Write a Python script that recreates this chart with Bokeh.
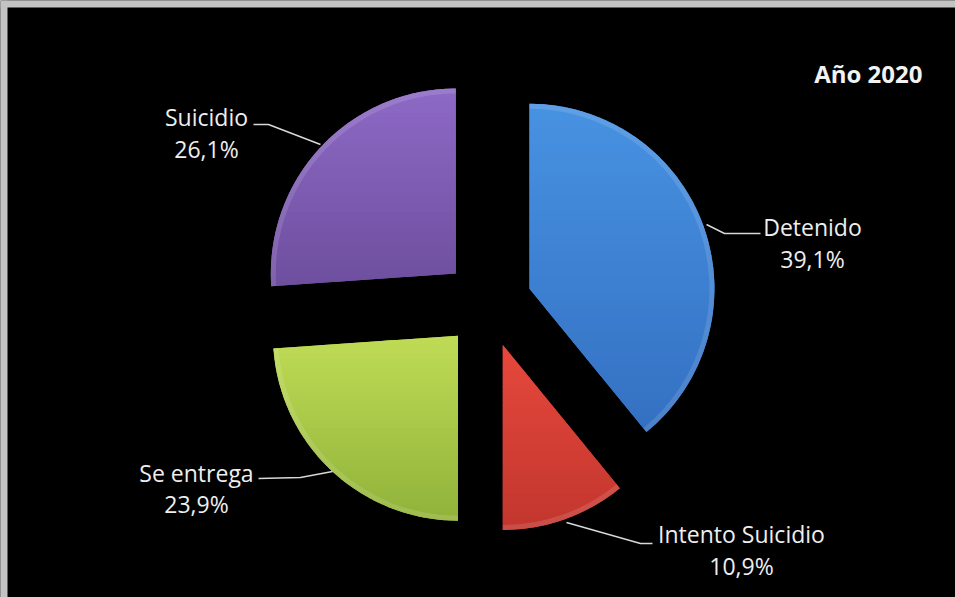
import math
from bokeh.plotting import figure
from bokeh.models import Range1d, Label, ColumnDataSource, BoxAnnotation
from bokeh.core.properties import value
from bokeh.embed import file_html
from bokeh.resources import INLINE

# ---- data ----
categories = ["Detenido", "Intento Suicidio", "Se entrega", "Suicidio"]
percents = [39.1, 10.9, 23.9, 26.1]
top_colors = ["#4892e2", "#e6483c", "#c0dc56", "#8d6ac6"]
bottom_colors = ["#3470c2", "#c2362e", "#90b23a", "#6e4e9e"]
title_text = "Año 2020"

W, H = 955, 597
BL, BT = 7, 7  # grey frame on left / top
p = figure(width=W, height=H, output_backend="svg", toolbar_location=None,
           x_range=Range1d(0, W), y_range=Range1d(0, H), min_border=0,
           background_fill_color="black", border_fill_color="black")
p.axis.visible = False
p.grid.visible = False
p.outline_line_color = None

# grey frame strips (left and top)
p.add_layout(BoxAnnotation(left=0, right=BL, bottom=0, top=H, fill_color="#c3c3c3",
                           fill_alpha=1, line_color=None))
p.add_layout(BoxAnnotation(left=0, right=W, bottom=H - BT, top=H, fill_color="#c3c3c3",
                           fill_alpha=1, line_color=None))


def px(x):  # page x -> data x
    return x


def py(y):  # page y -> data y
    return H - y


CX, CY = px(487.5), py(303)
R = 185
EXPLODE = 44

total = sum(percents)
starts, ends, cxs, cys = [], [], [], []
cum = 0.0
for v in percents:
    a_hi = math.radians(90 - cum / total * 360)
    cum += v
    a_lo = math.radians(90 - cum / total * 360)
    mid = (a_hi + a_lo) / 2
    starts.append(a_lo)
    ends.append(a_hi)
    cxs.append(CX + EXPLODE * math.cos(mid))
    cys.append(CY + EXPLODE * math.sin(mid))


def mix(c1, c2, t):
    a = [int(c1[i:i + 2], 16) for i in (1, 3, 5)]
    b = [int(c2[i:i + 2], 16) for i in (1, 3, 5)]
    return "#%02x%02x%02x" % tuple(round(a[k] + (b[k] - a[k]) * t) for k in range(3))


def clip(poly, yv, keep_above):
    out = []
    n = len(poly)
    for i in range(n):
        x1, y1 = poly[i]
        x2, y2 = poly[(i + 1) % n]
        in1 = (y1 >= yv) if keep_above else (y1 <= yv)
        in2 = (y2 >= yv) if keep_above else (y2 <= yv)
        if in1:
            out.append((x1, y1))
        if in1 != in2:
            t = (yv - y1) / (y2 - y1)
            out.append((x1 + (x2 - x1) * t, yv))
    return out


# base wedges (mid colour) from data
base_src = ColumnDataSource(dict(x=cxs, y=cys, start=starts, end=ends,
                                 color=[mix(top_colors[i], bottom_colors[i], 0.5) for i in range(4)]))
p.wedge(x="x", y="y", radius=R, start_angle="start", end_angle="end",
        fill_color="color", line_color=None, source=base_src)

# vertical gradient overlay
NB = 40
xs_all, ys_all, cols_all = [], [], []
for i in range(4):
    pts = [(cxs[i], cys[i])]
    n = 120
    for k in range(n + 1):
        a = starts[i] + (ends[i] - starts[i]) * k / n
        pts.append((cxs[i] + R * math.cos(a), cys[i] + R * math.sin(a)))
    ymax = max(pt[1] for pt in pts)
    ymin = min(pt[1] for pt in pts)
    for b in range(NB):
        y_hi = ymax - (ymax - ymin) * b / NB
        y_lo = ymax - (ymax - ymin) * (b + 1) / NB - 0.6
        poly = clip(clip(pts, y_lo, True), y_hi, False)
        if len(poly) < 3:
            continue
        xs_all.append([q[0] for q in poly])
        ys_all.append([q[1] for q in poly])
        cols_all.append(mix(top_colors[i], bottom_colors[i], (b + 0.5) / NB))
p.patches(xs=xs_all, ys=ys_all, fill_color=cols_all, line_color=None)

# subtle bevel on outer rim
p.annular_wedge(x=cxs, y=cys, inner_radius=R - 5, outer_radius=R,
                start_angle=starts, end_angle=ends,
                fill_color="white", fill_alpha=0.12, line_color=None)

# labels
def fmt(v):
    return ("%.1f" % v).replace(".", ",") + "%"

label_pos = [(812, 226, 258), (741, 533, 565), (196, 472, 503), (206, 116, 148)]
leaders = [
    [(706, 224), (724, 233), (760, 233)],
    [(566, 522), (640, 543), (652, 543)],
    [(258, 478), (300, 477), (332, 471)],
    [(253, 124), (268, 124), (320, 144)],
]
tx, ty, tt = [], [], []
for i, (lx, l1, l2) in enumerate(label_pos):
    tx += [px(lx), px(lx)]
    ty += [py(l1), py(l2)]
    tt += [categories[i], fmt(percents[i])]
p.text(x=tx, y=ty, text=tt, text_font=value("Open Sans"), text_font_size=value("23px"),
       text_align="center", text_baseline="middle", text_color="#eeeeee")

for ln in leaders:
    p.line([px(q[0]) for q in ln], [py(q[1]) for q in ln], line_color="#d8d8d8", line_width=1.5)

p.add_layout(Label(x=px(922), y=py(73), text=title_text, text_font="Open Sans",
                   text_font_style="bold", text_font_size="24px", text_color="#f2f2f2",
                   text_align="right", text_baseline="middle"))

open("out.html", "w").write(file_html(p, INLINE))
